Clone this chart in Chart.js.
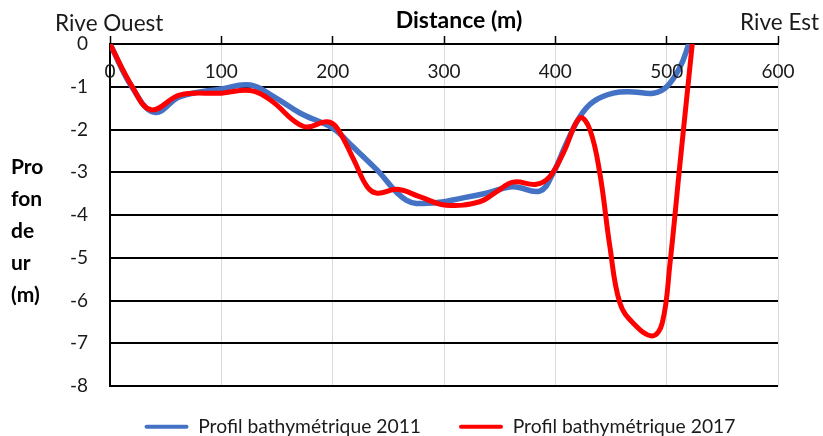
<!DOCTYPE html>
<html><head><meta charset="utf-8">
<script src="https://cdn.jsdelivr.net/npm/chart.js@4.4.1/dist/chart.umd.min.js"></script>
<style>html,body{margin:0;padding:0;background:#fff;overflow:hidden}#wrap{width:823px;height:436px}</style>
</head><body><div id="wrap"><canvas id="c" width="823" height="436"></canvas></div>
<script>
// ---- data ----
const distance2011 = [0, 20, 40, 63, 100, 126, 147, 171, 200, 218, 240, 266, 290, 317, 338, 362, 386, 398, 410, 422, 434, 452, 470, 488, 500, 512, 520];
const depth2011    = [0, -1.02, -1.6, -1.23, -1.05, -0.96, -1.23, -1.62, -1.97, -2.4, -2.95, -3.65, -3.72, -3.6, -3.49, -3.34, -3.44, -3.02, -2.32, -1.7, -1.35, -1.15, -1.12, -1.15, -1.0, -0.54, 0];
const distance2017 = [0, 20, 37, 63, 100, 126, 144, 174, 195, 204, 219, 231, 240, 258, 278, 302, 332, 347, 362, 383, 395, 407, 422, 431, 440, 449, 458, 470, 487, 496, 503, 512, 523];
const depth2017    = [0, -1.0, -1.54, -1.19, -1.15, -1.09, -1.31, -1.93, -1.82, -1.97, -2.71, -3.34, -3.49, -3.4, -3.57, -3.77, -3.69, -3.46, -3.23, -3.28, -3.1, -2.56, -1.73, -2.0, -3.03, -4.74, -6.06, -6.53, -6.83, -6.53, -5.13, -2.79, 0];
const seriesNames = ['Profil bathymétrique 2011', 'Profil bathymétrique 2017'];
const xTickValues = [0, 100, 200, 300, 400, 500, 600];
const yTickValues = [0, -1, -2, -3, -4, -5, -6, -7, -8];
const xTitle = 'Distance (m)';
const yTitleLines = ['Pro', 'fon', 'de', 'ur', '(m)'];
const leftBankLabel = 'Rive Ouest';
const rightBankLabel = 'Rive Est';

const FONT = 'Lato, "Open Sans", sans-serif';
const TXT = '#1a1a1a';

const toPoints = (xs, ys) => xs.map((x, i) => ({x: x, y: ys[i]}));

const annotations = {
  id: 'annotations',
  afterLayout(chart) {
    const lg = chart.legend;
    if (lg) {
      const dx = 440 - (lg.left + lg.right) / 2;
      lg.left += dx; lg.right += dx;
      lg.top = 379; lg.bottom = 436;
    }
  },
  afterDraw(chart) {
    const ctx = chart.ctx;
    const xs = chart.scales.x;
    ctx.save();
    ctx.fillStyle = TXT;
    // x tick labels (drawn inside plot, below top axis)
    ctx.font = '19px ' + FONT;
    ctx.textAlign = 'center';
    ctx.textBaseline = 'middle';
    xTickValues.forEach(v => ctx.fillText(String(v), xs.getPixelForValue(v), 72));
    // bank labels
    ctx.font = '22.5px ' + FONT;
    ctx.textBaseline = 'alphabetic';
    ctx.textAlign = 'left';
    ctx.fillText(leftBankLabel, 55, 31);
    ctx.textAlign = 'right';
    ctx.fillText(rightBankLabel, 819, 30);
    // x title
    ctx.font = 'bold 23px ' + FONT;
    ctx.textAlign = 'center';
    ctx.fillStyle = '#000';
    ctx.fillText(xTitle, 459, 28);
    // y title
    ctx.font = 'bold 21px ' + FONT;
    ctx.textAlign = 'left';
    yTitleLines.forEach((t, i) => ctx.fillText(t, 11, 174 + i * 32));
    ctx.restore();
  }
};

new Chart(document.getElementById('c'), {
  type: 'line',
  data: {
    datasets: [
      {label: seriesNames[0], data: toPoints(distance2011, depth2011), borderColor: '#4472C4', backgroundColor: '#4472C4', borderWidth: 5.5, tension: 0.4, pointRadius: 0, order: 1, borderCapStyle: 'round', borderJoinStyle: 'round'},
      {label: seriesNames[1], data: toPoints(distance2017, depth2017), borderColor: '#FF0000', backgroundColor: '#FF0000', borderWidth: 5, tension: 0.4, pointRadius: 0, order: 0, borderCapStyle: 'round', borderJoinStyle: 'round'}
    ]
  },
  options: {
    responsive: false,
    devicePixelRatio: 1,
    animation: false,
    layout: {padding: {left: 50, right: 45, top: 0, bottom: 0}},
    plugins: {
      title: {display: false},
      tooltip: {enabled: false},
      legend: {
        display: true,
        position: 'bottom',
        maxHeight: 50,
        labels: {
          font: {family: FONT, size: 19.3},
          color: TXT,
          boxWidth: 44,
          boxHeight: 4,
          padding: 38,
          sort: (a, b) => a.datasetIndex - b.datasetIndex,
          generateLabels(chart) {
            const items = Chart.defaults.plugins.legend.labels.generateLabels(chart);
            items.forEach(it => { it.lineWidth = 0; it.borderRadius = 2; });
            return items;
          }
        }
      }
    },
    scales: {
      x: {
        type: 'linear',
        position: 'top',
        min: 0, max: 600,
        afterBuildTicks(scale) { scale.ticks = xTickValues.map(v => ({value: v})); },
        ticks: {display: false},
        grid: {color: '#d9d9d9', lineWidth: 1, drawTicks: true, tickLength: 8, tickColor: '#000', tickWidth: 1.5},
        border: {display: true, color: '#000', width: 2},
        afterFit(scale) { scale.height = 44; }
      },
      y: {
        type: 'linear',
        min: -8, max: 0,
        afterBuildTicks(scale) { scale.ticks = yTickValues.map(v => ({value: v})); },
        ticks: {font: {family: FONT, size: 19}, color: TXT, padding: 22},
        grid: {color: '#000', lineWidth: 2, drawTicks: false},
        border: {display: true, color: '#000', width: 2},
        afterFit(scale) { scale.width = 60; }
      }
    }
  },
  plugins: [annotations]
});
</script>
</body></html>
